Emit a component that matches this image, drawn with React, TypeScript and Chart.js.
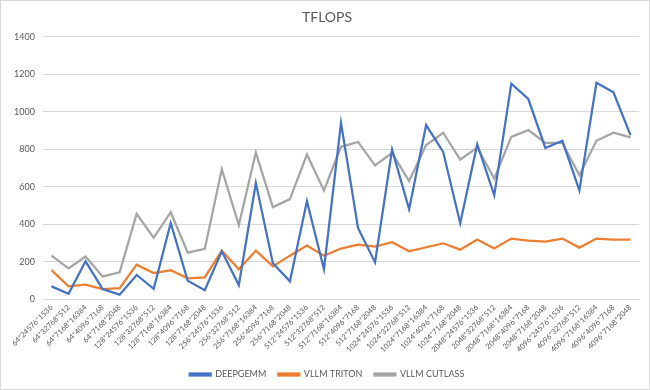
import React, { useEffect, useRef } from "react";
import { Chart, registerables } from "chart.js";

Chart.register(...registerables);

const categories: string[] = [
  "64*24576*1536", "64*32768*512", "64*7168*16384", "64*4096*7168", "64*7168*2048",
  "128*24576*1536", "128*32768*512", "128*7168*16384", "128*4096*7168", "128*7168*2048",
  "256*24576*1536", "256*32768*512", "256*7168*16384", "256*4096*7168", "256*7168*2048",
  "512*24576*1536", "512*32768*512", "512*7168*16384", "512*4096*7168", "512*7168*2048",
  "1024*24576*1536", "1024*32768*512", "1024*7168*16384", "1024*4096*7168", "1024*7168*2048",
  "2048*24576*1536", "2048*32768*512", "2048*7168*16384", "2048*4096*7168", "2048*7168*2048",
  "4096*24576*1536", "4096*32768*512", "4096*7168*16384", "4096*4096*7168", "4096*7168*2048",
];

const deepgemm: number[] = [
  68, 28, 202, 54, 24, 129, 55, 407, 98, 48,
  255, 75, 620, 192, 95, 523, 160, 941, 380, 196,
  798, 480, 929, 786, 405, 827, 554, 1150, 1068, 807,
  845, 580, 1155, 1104, 875,
];

const vllmTriton: number[] = [
  155, 68, 77, 54, 59, 184, 139, 154, 111, 116,
  259, 159, 259, 175, 232, 286, 232, 270, 291, 280,
  304, 255, 277, 298, 264, 318, 270, 323, 312, 307,
  323, 275, 323, 318, 318,
];

const vllmCutlass: number[] = [
  232, 164, 227, 121, 143, 455, 327, 464, 248, 268,
  693, 395, 782, 491, 534, 772, 580, 813, 839, 714,
  780, 630, 822, 888, 745, 809, 643, 866, 902, 834,
  834, 661, 845, 888, 863,
];

const seriesNames: string[] = ["DEEPGEMM", "VLLM TRITON", "VLLM CUTLASS"];
const seriesColors: string[] = ["#4472c4", "#ed7d31", "#a5a5a5"];
const yTicks: number[] = [0, 200, 400, 600, 800, 1000, 1200, 1400];

const FONT = "Lato, 'Open Sans', sans-serif";

export default function App() {
  const ref = useRef<HTMLCanvasElement | null>(null);

  useEffect(() => {
    if (!ref.current) return;
    const values = [deepgemm, vllmTriton, vllmCutlass];
    const chart = new Chart(ref.current, {
      type: "line",
      data: {
        labels: categories,
        datasets: values.map((v, i) => ({
          label: seriesNames[i],
          data: v,
          borderColor: seriesColors[i],
          backgroundColor: seriesColors[i],
          borderWidth: 2.25,
          pointRadius: 0,
          tension: 0,
        })),
      },
      options: {
        responsive: false,
        maintainAspectRatio: false,
        animation: false,
        layout: { padding: { left: 14, right: 10, top: 2, bottom: 0 } },
        plugins: {
          title: {
            display: true,
            text: "TFLOPS",
            color: "#595959",
            font: { family: FONT, size: 14, weight: "normal" },
            padding: { top: 6, bottom: 11 },
          },
          legend: {
            position: "bottom",
            labels: {
              color: "#595959",
              font: { family: FONT, size: 9 },
              boxWidth: 21,
              boxHeight: 2,
              padding: 12,
            },
          },
          tooltip: { enabled: false },
        },
        scales: {
          x: {
            type: "category",
            offset: true,
            afterFit: (axis: any) => {
              axis.paddingLeft = 0;
              axis.paddingRight = 0;
            },
            grid: { display: false, drawTicks: false },
            border: { display: true, color: "#d9d9d9", width: 1 },
            ticks: {
              color: "#595959",
              font: { family: FONT, size: 7.5 },
              minRotation: 45,
              maxRotation: 45,
              autoSkip: false,
              padding: 4,
            },
          },
          y: {
            min: 0,
            max: 1400,
            afterBuildTicks: (axis: any) => {
              axis.ticks = yTicks.map((v) => ({ value: v }));
            },
            afterFit: (axis: any) => {
              axis.width = 28;
            },
            grid: { color: "#d9d9d9", drawTicks: false },
            border: { display: false },
            ticks: {
              color: "#595959",
              font: { family: FONT, size: 9 },
              padding: 8,
              callback: (v: any) => String(v),
            },
          },
        },
      },
    });
    return () => chart.destroy();
  }, []);

  return (
    <div
      style={{
        position: "fixed",
        left: 0,
        top: 0,
        width: 650,
        height: 390,
        boxSizing: "border-box",
        border: "1px solid #d9d9d9",
        background: "#fff",
      }}
    >
      <canvas ref={ref} width={648} height={388} style={{ display: "block" }} />
    </div>
  );
}
